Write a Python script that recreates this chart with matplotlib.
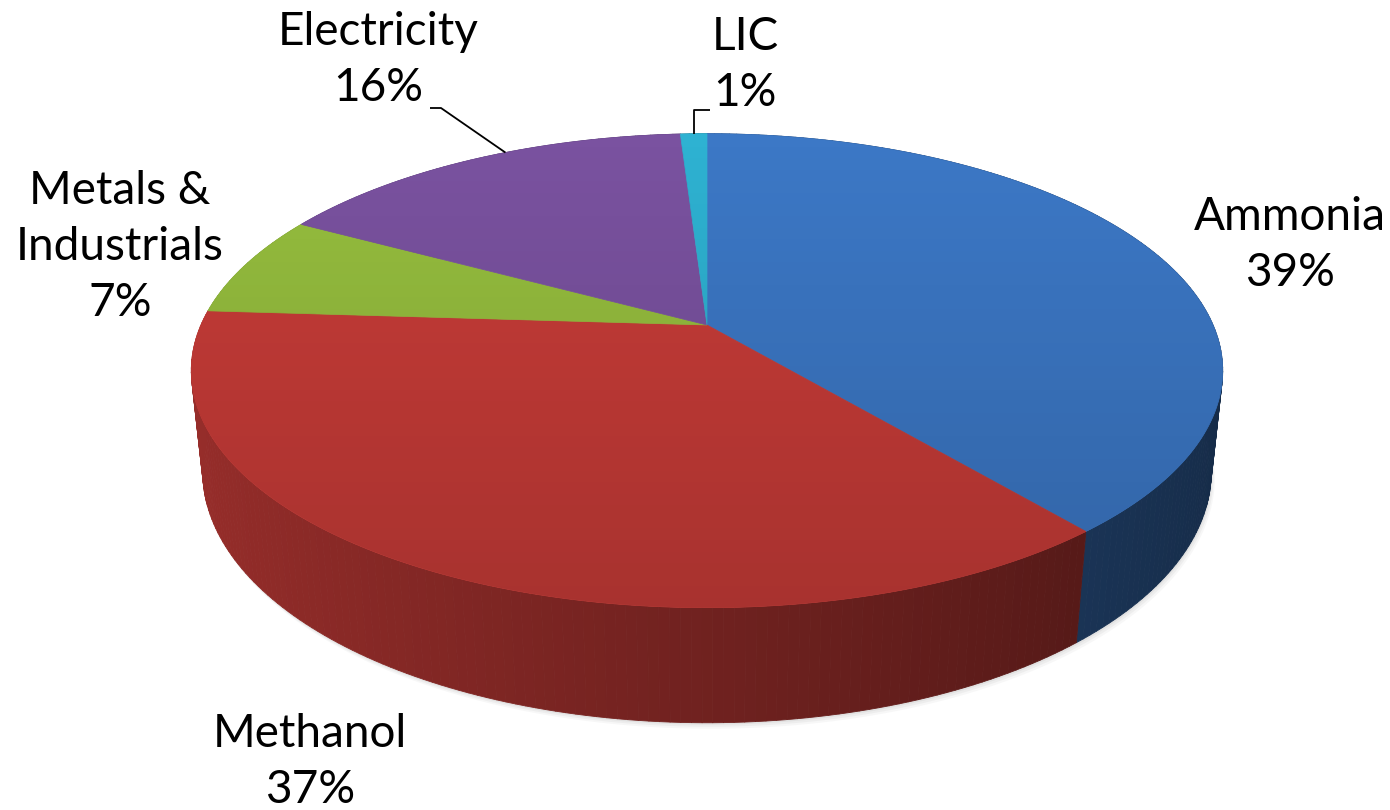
import numpy as np
import matplotlib
matplotlib.use("Agg")
import matplotlib.pyplot as plt
from matplotlib.patches import Polygon
from matplotlib.collections import PolyCollection
import matplotlib.colors as mcolors

# ---- data ----
categories = ["Ammonia", "Methanol", "Metals &\nIndustrials", "Electricity", "LIC"]
shares = [39, 37, 7, 16, 1]
pct_labels = ["39%", "37%", "7%", "16%", "1%"]
colors = ["#3C78C6", "#C83C38", "#96BE3E", "#7A52A0", "#2EB2D2"]

# ---- projection (perspective view of a flat cylinder) ----
ALPHA = np.deg2rad(26.8)
DIST = 4.63
FOC = 2343.0
THICK = 0.225
S, C = np.sin(ALPHA), np.cos(ALPHA)


def project(X, Y, z):
    d = DIST + Y * C - z * S
    v = Y * S + z * C
    return FOC * X / d, FOC * v / d


def rim(theta, z):
    return project(np.sin(theta), np.cos(theta), z)


fig = plt.figure(figsize=(13.9, 8.1), dpi=100)
ax = fig.add_axes([0, 0, 1, 1])
ax.set_xlim(-707, 683)
ax.set_ylim(-485, 325)
ax.axis("off")

fracs = np.array(shares, dtype=float) / np.sum(shares)
edges = np.concatenate([[0], np.cumsum(fracs)]) * 2 * np.pi

# soft shadow below the solid
tt = np.linspace(0, 2 * np.pi, 400)
bx, by = rim(tt, -THICK)
for k, a in zip([6, 4, 2], [0.06, 0.08, 0.10]):
    ax.add_patch(Polygon(np.column_stack([bx + k * 0.6, by - k]), closed=True,
                         facecolor="#808080", edgecolor="none", alpha=a, zorder=0))

# side walls
quads, qcols, qdepth = [], [], []
for i in range(len(shares)):
    base = np.array(mcolors.to_rgb(colors[i]))
    n = max(int(np.degrees(edges[i + 1] - edges[i])), 2)
    th = np.linspace(edges[i], edges[i + 1], n + 1)
    for a, b in zip(th[:-1], th[1:]):
        x0, y0 = rim(a, 0)
        x1, y1 = rim(b, 0)
        x2, y2 = rim(b, -THICK)
        x3, y3 = rim(a, -THICK)
        quads.append([(x0, y0), (x1, y1), (x2, y2), (x3, y3)])
        m = 0.5 * (a + b)
        f = 0.56 - 0.2 * np.sin(m)
        qcols.append(np.clip(base * f, 0, 1))
        qdepth.append(np.cos(m))
order = np.argsort(-np.array(qdepth))
pc = PolyCollection([quads[j] for j in order], facecolors=[qcols[j] for j in order],
                    edgecolors=[qcols[j] for j in order], linewidths=0.6, zorder=1)
ax.add_collection(pc)

# top faces
cx, cy = project(0.0, 0.0, 0.0)
for i in range(len(shares)):
    n = max(int(np.degrees(edges[i + 1] - edges[i]) * 2), 4)
    th = np.linspace(edges[i], edges[i + 1], n + 1)
    xs, ys = rim(th, 0)
    pts = np.column_stack([np.r_[cx, xs], np.r_[cy, ys]])
    ax.add_patch(Polygon(pts, closed=True, facecolor=colors[i], edgecolor=colors[i],
                         linewidth=0.5, zorder=2))

# subtle darkening gradient on the top face toward the front
tx, ty = rim(tt, 0)
clip = Polygon(np.column_stack([tx, ty]), closed=True, facecolor="none",
               edgecolor="none", transform=ax.transData)
ax.add_patch(clip)
grad = np.linspace(0.16, 0.0, 256).reshape(-1, 1)
img = np.zeros((256, 1, 4))
img[..., 3] = grad
im = ax.imshow(img, extent=[-600, 600, ty.min(), ty.max()],
               origin="lower", aspect="auto", zorder=3, interpolation="bilinear")
im.set_clip_path(clip)
ax.set_xlim(-707, 683)
ax.set_ylim(-485, 325)

# ---- labels ----
FONT = "Lato"
FS = 33
lab_pos = {
    0: (1290, 245),
    1: (310, 762),
    2: (120, 247),
    3: (378, 60),
    4: (745, 65),
}


def px(xp, yp):
    return xp - 707, 325 - yp


for i in range(len(shares)):
    x, y = px(*lab_pos[i])
    ax.text(x, y, f"{categories[i]}\n{pct_labels[i]}", ha="center", va="center",
            fontsize=FS, family=FONT, color="black", linespacing=1.42, zorder=5)

# leader lines
ex, ey = rim(edges[3] + (edges[4] - edges[3]) * 0.58, 0)
ax.plot([px(430, 0)[0], px(441, 0)[0], ex], [px(0, 108)[1], px(0, 108)[1], ey],
        color="black", lw=1.3, zorder=5, solid_capstyle="butt")
lx, ly = rim(0.5 * (edges[4] + edges[5]), 0)
ax.plot([px(710, 0)[0], lx, lx], [px(0, 110)[1], px(0, 110)[1], ly],
        color="black", lw=1.3, zorder=5, solid_capstyle="butt")

fig.savefig("out.png", dpi=100)
